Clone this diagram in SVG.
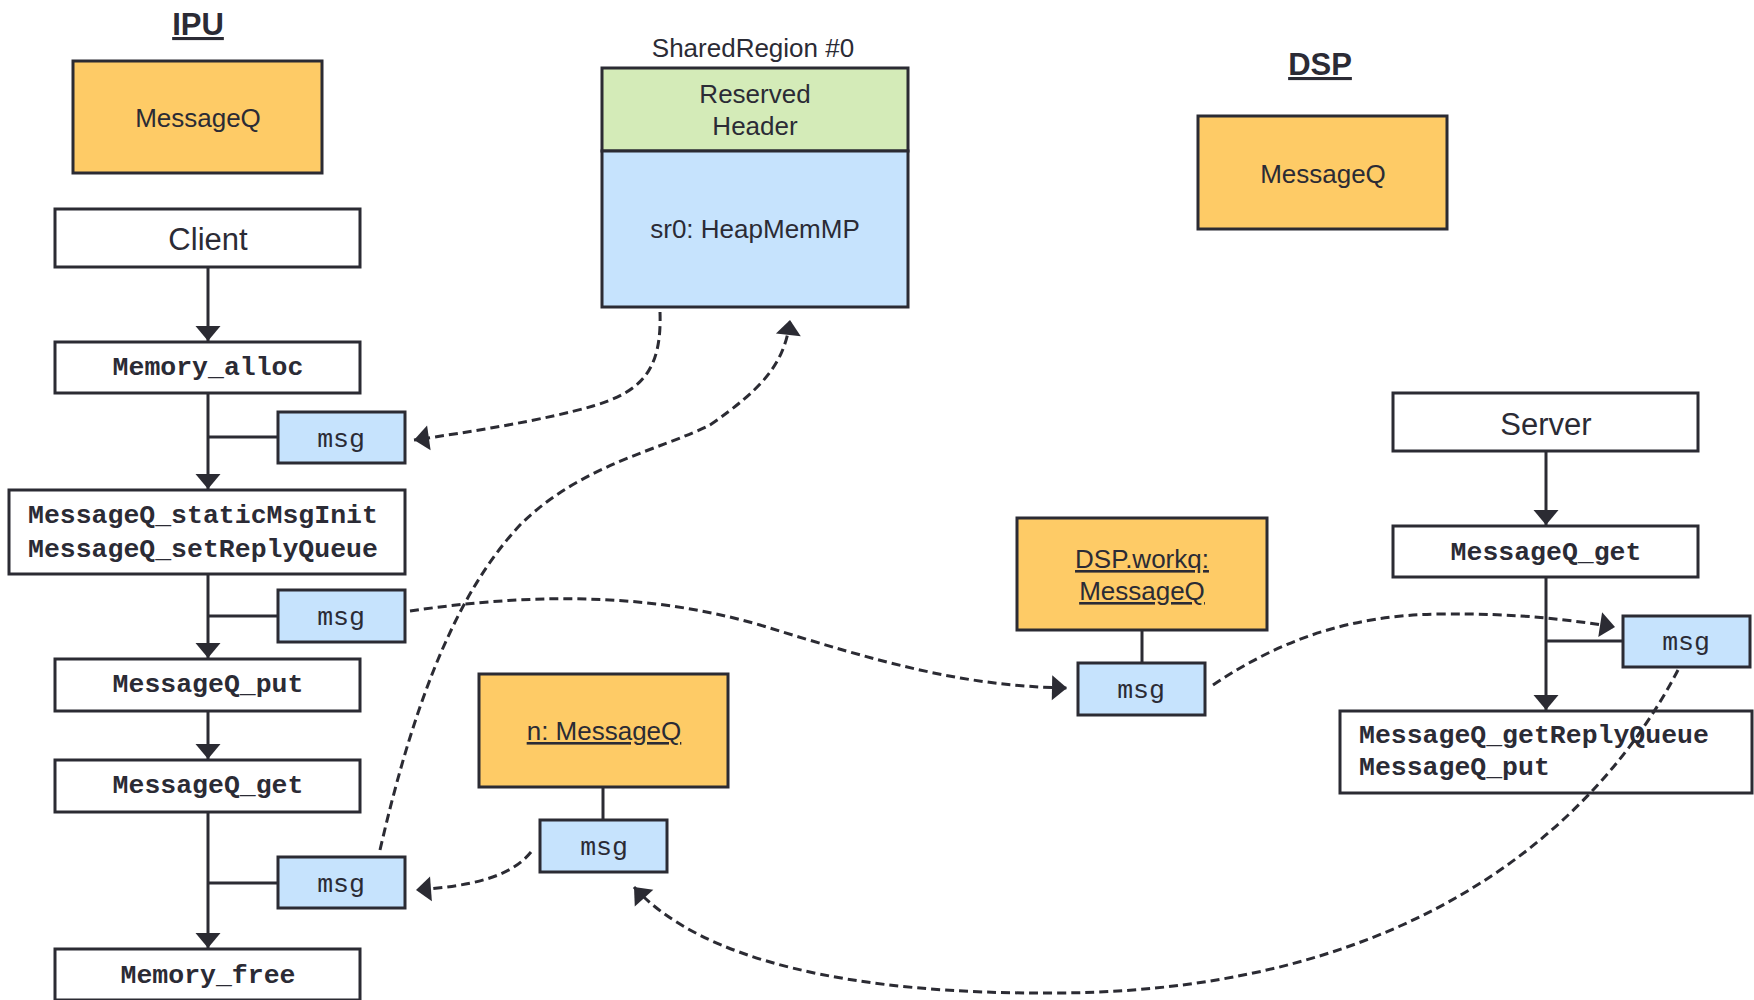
<svg xmlns="http://www.w3.org/2000/svg" width="1754" height="1000" viewBox="0 0 1754 1000">
<defs>
<style>
.box{stroke:#2b2b33;stroke-width:3}
.white{fill:#ffffff}
.orange{fill:#fecb66}
.green{fill:#d4ebb8}
.blue{fill:#c6e3fd}
.sans{font-family:"Liberation Sans",Arial,sans-serif;fill:#2b2b35}
.code{font-family:"Liberation Mono","Courier New",monospace;font-weight:bold;font-size:26.5px;fill:#2b2b35}
.msgt{font-family:"Liberation Mono","Courier New",monospace;font-size:26.5px;fill:#2b2b35}
.solid{stroke:#2b2b33;stroke-width:3;fill:none}
.dash{stroke:#2b2b33;stroke-width:3;fill:none;stroke-dasharray:9 5}
</style>
<marker id="arr" markerUnits="userSpaceOnUse" markerWidth="16" markerHeight="26" refX="15" refY="12.5" orient="auto" overflow="visible">
<path d="M0,0 L15,12.5 L0,25 Z" fill="#2b2b33"/>
</marker>
</defs>
<rect width="1754" height="1000" fill="#ffffff"/>

<g id="ipu-title"><text class="sans" x="198" y="35" font-size="31" font-weight="bold" text-anchor="middle" text-decoration="underline">IPU</text></g>
<g id="dsp-title"><text class="sans" x="1320" y="75" font-size="31" font-weight="bold" text-anchor="middle" text-decoration="underline">DSP</text></g>

<g id="ipu-messageq"><rect class="box orange" x="73" y="61" width="249" height="112"/><text class="sans" x="198" y="127" font-size="26" text-anchor="middle">MessageQ</text></g>
<g id="client"><rect class="box white" x="55" y="209" width="305" height="58"/><text class="sans" x="208" y="250" font-size="31" text-anchor="middle">Client</text></g>
<g id="memory-alloc"><rect class="box white" x="55" y="342" width="305" height="51"/><text class="code" x="208" y="375" text-anchor="middle">Memory_alloc</text></g>
<g id="msg1"><rect class="box blue" x="278" y="412" width="127" height="51"/><text class="msgt" x="341" y="447" text-anchor="middle">msg</text></g>
<g id="init"><rect class="box white" x="9" y="490" width="396" height="84"/><text class="code" x="28" y="523">MessageQ_staticMsgInit</text><text class="code" x="28" y="557">MessageQ_setReplyQueue</text></g>
<g id="msg2"><rect class="box blue" x="278" y="590" width="127" height="52"/><text class="msgt" x="341" y="625" text-anchor="middle">msg</text></g>
<g id="ipu-put"><rect class="box white" x="55" y="659" width="305" height="52"/><text class="code" x="208" y="692" text-anchor="middle">MessageQ_put</text></g>
<g id="ipu-get"><rect class="box white" x="55" y="760" width="305" height="52"/><text class="code" x="208" y="793" text-anchor="middle">MessageQ_get</text></g>
<g id="msg3"><rect class="box blue" x="278" y="857" width="127" height="51"/><text class="msgt" x="341" y="892" text-anchor="middle">msg</text></g>
<g id="memory-free"><rect class="box white" x="55" y="949" width="305" height="51"/><text class="code" x="208" y="983" text-anchor="middle">Memory_free</text></g>

<g id="shared-region">
<text class="sans" x="753" y="57" font-size="26" text-anchor="middle">SharedRegion #0</text>
<rect class="box green" x="602" y="68" width="306" height="83"/>
<rect class="box blue" x="602" y="151" width="306" height="156"/>
<text class="sans" x="755" y="103" font-size="26" text-anchor="middle">Reserved</text>
<text class="sans" x="755" y="135" font-size="26" text-anchor="middle">Header</text>
<text class="sans" x="755" y="238" font-size="26" text-anchor="middle">sr0: HeapMemMP</text>
</g>

<g id="dsp-messageq"><rect class="box orange" x="1198" y="116" width="249" height="113"/><text class="sans" x="1323" y="183" font-size="26" text-anchor="middle">MessageQ</text></g>
<g id="server"><rect class="box white" x="1393" y="393" width="305" height="58"/><text class="sans" x="1546" y="435" font-size="31" text-anchor="middle">Server</text></g>
<g id="dsp-get"><rect class="box white" x="1393" y="526" width="305" height="51"/><text class="code" x="1546" y="560" text-anchor="middle">MessageQ_get</text></g>
<g id="msg-dsp"><rect class="box blue" x="1623" y="616" width="127" height="51"/><text class="msgt" x="1686" y="650" text-anchor="middle">msg</text></g>
<g id="reply"><rect class="box white" x="1340" y="711" width="412" height="82"/><text class="code" x="1359" y="743">MessageQ_getReplyQueue</text><text class="code" x="1359" y="775">MessageQ_put</text></g>

<g id="workq"><rect class="box orange" x="1017" y="518" width="250" height="112"/><text class="sans" x="1142" y="568" font-size="26" text-anchor="middle" text-decoration="underline">DSP.workq:</text><text class="sans" x="1142" y="600" font-size="26" text-anchor="middle" text-decoration="underline">MessageQ</text></g>
<g id="msg-workq"><rect class="box blue" x="1078" y="663" width="127" height="52"/><text class="msgt" x="1141" y="698" text-anchor="middle">msg</text></g>

<g id="n-messageq"><rect class="box orange" x="479" y="674" width="249" height="113"/><text class="sans" x="604" y="740" font-size="26" text-anchor="middle" text-decoration="underline">n: MessageQ</text></g>
<g id="msg-n"><rect class="box blue" x="540" y="820" width="127" height="52"/><text class="msgt" x="604" y="855" text-anchor="middle">msg</text></g>

<g id="connectors">
<line class="solid" x1="208" y1="267" x2="208" y2="341" marker-end="url(#arr)"/>
<line class="solid" x1="208" y1="393" x2="208" y2="489" marker-end="url(#arr)"/>
<line class="solid" x1="208" y1="437" x2="277" y2="437"/>
<line class="solid" x1="208" y1="574" x2="208" y2="658" marker-end="url(#arr)"/>
<line class="solid" x1="208" y1="616" x2="277" y2="616"/>
<line class="solid" x1="208" y1="711" x2="208" y2="759" marker-end="url(#arr)"/>
<line class="solid" x1="208" y1="812" x2="208" y2="948" marker-end="url(#arr)"/>
<line class="solid" x1="208" y1="883" x2="277" y2="883"/>
<line class="solid" x1="1546" y1="451" x2="1546" y2="525" marker-end="url(#arr)"/>
<line class="solid" x1="1546" y1="577" x2="1546" y2="710" marker-end="url(#arr)"/>
<line class="solid" x1="1546" y1="641" x2="1622" y2="641"/>
<line class="solid" x1="1142" y1="631" x2="1142" y2="662"/>
<line class="solid" x1="603" y1="788" x2="603" y2="819"/>
<path class="dash" d="M660,312 C662,372 640,392 593,406 C545,420 470,432 414,440" marker-end="url(#arr)"/>
<path class="dash" d="M380,850 C410,720 450,600 520,525 C580,465 660,450 710,425 C760,390 785,365 790,320" marker-end="url(#arr)"/>
<path class="dash" d="M410,611 C520,595 640,590 760,625 C880,662 960,686 1067,688" marker-end="url(#arr)"/>
<path class="dash" d="M1213,685 C1280,640 1350,615 1440,614 C1520,613 1570,620 1615,627" marker-end="url(#arr)"/>
<path class="dash" d="M1678,670 C1600,820 1420,990 1060,993 C850,995 700,960 634,887" marker-end="url(#arr)"/>
<path class="dash" d="M531,852 C510,878 470,886 416,890" marker-end="url(#arr)"/>
</g>
</svg>
